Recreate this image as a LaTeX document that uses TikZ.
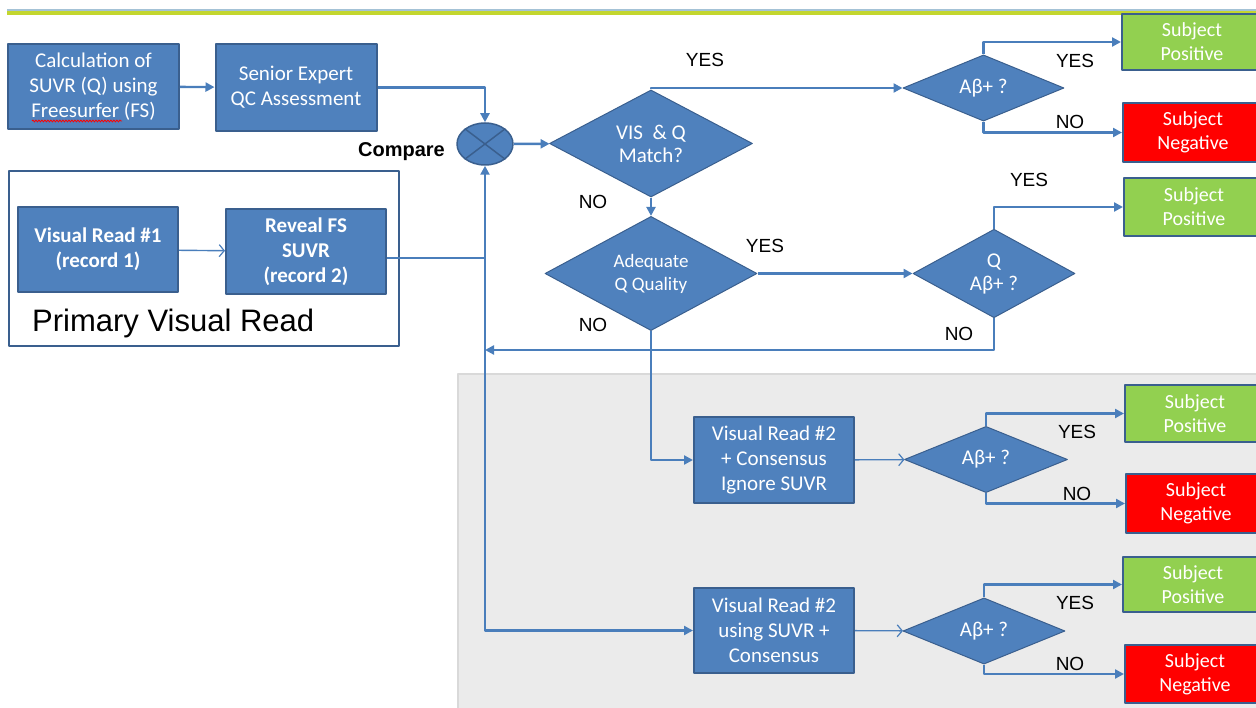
\documentclass[tikz,border=0pt]{standalone}
\usepackage{fontspec}
\setmainfont{Carlito}
\newfontfamily\arialfont{Liberation Sans}
\usetikzlibrary{shapes.geometric,arrows.meta,decorations.pathmorphing}

\definecolor{boxblue}{HTML}{4F81BD}
\definecolor{edgeblue}{HTML}{3A5F8E}
\definecolor{lineblue}{HTML}{4A7EBB}
\definecolor{okgreen}{HTML}{92D050}
\definecolor{badred}{HTML}{FF0000}
\definecolor{bandblue}{HTML}{A4C2D6}
\definecolor{bandgreen}{HTML}{C3D62F}

\begin{document}
\begin{tikzpicture}[x=1pt, y=-1pt, line join=round,
    blk/.style={draw=edgeblue, line width=2pt, fill=boxblue, text=white, align=center,
        inner sep=0pt, font=\fontsize{21}{25}\selectfont},
    dec/.style={diamond, draw=edgeblue, line width=1pt, fill=boxblue, text=white,
        align=center, inner sep=0pt, font=\fontsize{21}{23}\selectfont},
    posbox/.style={blk, anchor=west, fill=okgreen, minimum width=140pt, font=\fontsize{20}{24}\selectfont},
    negbox/.style={posbox, fill=badred},
    lbl/.style={font=\arialfont\fontsize{19}{20}\selectfont},
    flow/.style={draw=lineblue, line width=2.4pt, -{Triangle[length=9pt,width=9pt]}},
    thinflow/.style={draw=lineblue, line width=1.4pt, -{Straight Barb[length=5pt,width=12pt,line width=1.2pt]}}]
    \useasboundingbox (0,0) rectangle (1256,708);

    % header band and grey area
    \fill[bandblue] (7,9) rectangle (1256,11.5);
    \fill[bandgreen] (7,11.5) rectangle (1256,15.5);
    \draw[draw=black!15, fill=black!8, line width=1.5pt] (458,374) rectangle (1262,714);

    % left part
    \node[blk, minimum width=171pt, minimum height=85pt] (calc) at (93.5,86.5) {Calculation of\\SUVR (Q) using\\Freesurfer (FS)};
    \draw[red, line width=0.8pt, decorate, decoration={snake, amplitude=1pt, segment length=3pt}] (32,121) -- (122,121);
    \node[blk, minimum width=161pt, minimum height=87pt] (senior) at (296,87.5) {Senior Expert\\QC Assessment};
    \node[draw=edgeblue, line width=2pt, minimum width=390pt, minimum height=175pt] (pvr) at (204,258.5) {};
    \node[anchor=west, inner sep=0pt, font=\arialfont\fontsize{31}{33}\selectfont] (pvrtxt) at (32,323) {Primary Visual Read};
    \node[blk, font=\bfseries\fontsize{21}{25}\selectfont, minimum width=160pt, minimum height=85pt] (vr1) at (98,249.5) {Visual Read \#1\\(record 1)};
    \node[blk, font=\bfseries\fontsize{21}{25}\selectfont, minimum width=160pt, minimum height=85pt] (reveal) at (306,251.5) {Reveal FS\\SUVR\\(record 2)};

    \node[ellipse, draw=edgeblue, line width=1.5pt, fill=boxblue, minimum width=56pt, minimum height=42pt] (cmp) at (485,144) {};
    \draw[edgeblue, line width=1.5pt] (cmp.north west) -- (cmp.south east) (cmp.north east) -- (cmp.south west);
    \node[anchor=east, inner sep=0pt, font=\arialfont\bfseries\fontsize{20}{22}\selectfont] (cmplbl) at (445,152) {Compare};

    % decisions
    \node[dec, minimum width=203pt, minimum height=93pt] (vis) at (651,143.5) {VIS \ \& Q\\Match?};
    \node[dec, minimum width=212pt, minimum height=113pt, font=\fontsize{19}{23}\selectfont] (adq) at (651,273.5) {Adequate\\Q Quality};
    \node[dec, minimum width=161pt, minimum height=60pt] (ab1) at (983.5,88) {Aβ+ ?};
    \node[dec, minimum width=162pt, minimum height=69pt] (qab) at (994,273.5) {Q\\Aβ+ ?};

    \node[blk, minimum width=160pt, minimum height=85pt] (vr2a) at (774,460) {Visual Read \#2\\+ Consensus\\Ignore SUVR};
    \node[blk, minimum width=160pt, minimum height=85pt] (vr2b) at (774,630.5) {Visual Read \#2\\using SUVR +\\Consensus};
    \node[dec, minimum width=163pt, minimum height=61pt] (ab2) at (986,459.5) {Aβ+ ?};
    \node[dec, minimum width=162pt, minimum height=62pt] (ab3) at (984,631) {Aβ+ ?};

    % outcomes
    \node[posbox, minimum height=56pt] (sp1) at (1121,42) {Subject\\Positive};
    \node[negbox, minimum height=59pt] (sn1) at (1122,132.5) {Subject\\Negative};
    \node[posbox, minimum height=58pt] (sp2) at (1123,207) {Subject\\Positive};
    \node[posbox, minimum height=57pt] (sp3) at (1124,413.5) {Subject\\Positive};
    \node[negbox, minimum height=59pt] (sn2) at (1125,503.5) {Subject\\Negative};
    \node[posbox, minimum height=55pt] (sp4) at (1122,584.5) {Subject\\Positive};
    \node[negbox, minimum height=58pt] (sn3) at (1124,674) {Subject\\Negative};

    \coordinate (jn) at (485,258);
    \coordinate (ret) at (485,350);

    \draw[flow] (calc) -- (senior);
    \draw[flow] (senior.east) -| (cmp.north);
    \draw[thinflow] (vr1) -- (reveal);
    \draw[flow] ([yshift=-6.5pt]reveal.east) -| (cmp.south);
    \draw[flow] (jn) |- (vr2b.west);
    \draw[flow] (cmp) -- (vis);
    \draw[flow] (vis.north) |- (ab1.west);
    \draw[flow] (ab1.north) |- (sp1.west);
    \draw[flow] (ab1.south) |- (sn1.west);
    \draw[flow] (vis) -- (adq);
    \draw[flow] (adq) -- (qab);
    \draw[flow] (qab.north) |- (sp2.west);
    \draw[flow] (qab.south) |- (ret);
    \draw[flow] (adq.south) |- (vr2a.west);
    \draw[thinflow] (vr2a) -- (ab2);
    \draw[flow] (ab2.north) |- (sp3.west);
    \draw[flow] (ab2.south) |- (sn2.west);
    \draw[thinflow] (vr2b) -- (ab3);
    \draw[flow] (ab3.north) |- (sp4.west);
    \draw[flow] (ab3.south) |- (sn3.west);

    \foreach \x/\y/\t [count=\i] in {705/60/YES, 1075/61/YES, 1070/122/NO, 1029/180/YES,
        593/202/NO, 765/246/YES, 593/325/NO, 959/334/NO,
        1077/432/YES, 1077/494/NO, 1075/603/YES, 1070/664/NO}
        \node[lbl] (lab\i) at (\x,\y) {\t};
\end{tikzpicture}
\end{document}
